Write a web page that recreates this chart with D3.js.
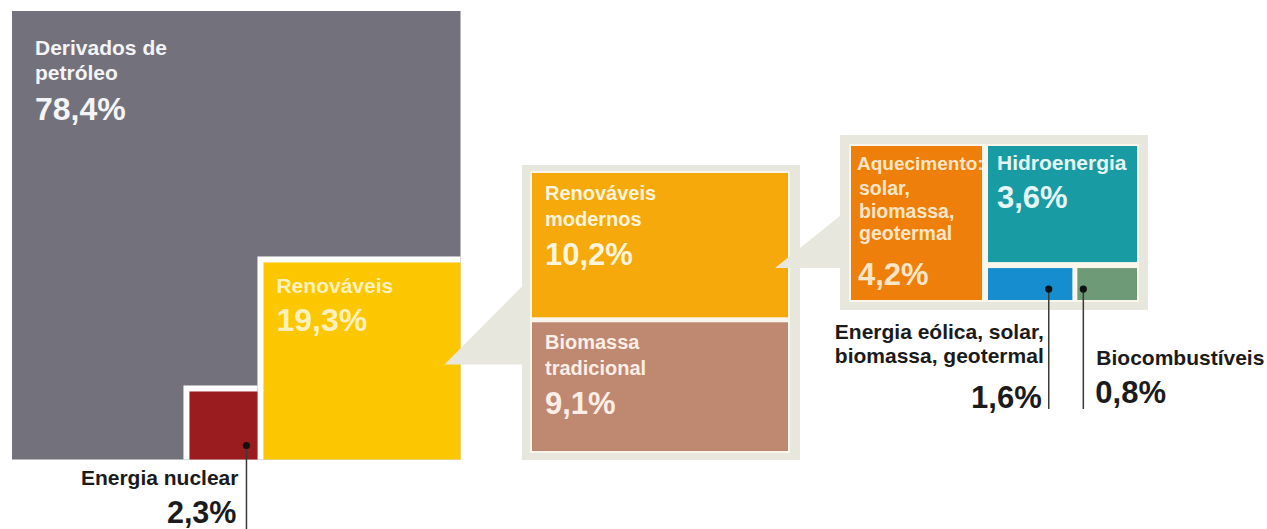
<!DOCTYPE html>
<html>
<head>
<meta charset="utf-8">
<script src="https://cdn.jsdelivr.net/npm/d3@7"></script>
<style>
  html, body { margin: 0; padding: 0; background: #fff; }
  svg { display: block; font-family: "Liberation Sans", Arial, Helvetica, sans-serif; font-weight: bold; }
</style>
</head>
<body>
<svg id="chart" width="1267" height="529"></svg>
<script>
// Final energy consumption by source (%), with the renewable share broken down twice
const sourceNames = ["Derivados de\npetróleo", "Energia nuclear", "Renováveis"];
const sourceValues = [78.4, 2.3, 19.3];

const renewableNames = ["Renováveis\nmodernos", "Biomassa\ntradicional"];
const renewableValues = [10.2, 9.1];

const modernNames = ["Aquecimento:\nsolar,\nbiomassa,\ngeotermal", "Hidroenergia",
                     "Energia eólica, solar,\nbiomassa, geotermal", "Biocombustíveis"];
const modernValues = [4.2, 3.6, 1.6, 0.8];

// Fill colours
const sourceColors = ["#73717b", "#9b1c1f", "#fdc700"];
const renewableColors = ["#f5a90a", "#bf8870"];
const modernColors = ["#ee7f0b", "#199ba3", "#168dcf", "#6e9a78"];
const frameColor = "#e8e7dd";
const innerLine = "#faf6ec";

const pt = d3.formatLocale({ decimal: ",", thousands: ".", grouping: [3], currency: ["", ""] });
const fmt = v => pt.format(".1f")(v) + "%";

const svg = d3.select("#chart");

// Multi-line text block; lines separated by \n
function textBlock(g, x, y, str, size, lineH, fill, anchor = "start") {
  const t = g.append("text")
    .attr("x", x).attr("y", y)
    .attr("font-size", size)
    .attr("fill", fill)
    .attr("text-anchor", anchor);
  str.split("\n").forEach((line, i) => {
    t.append("tspan").attr("x", x).attr("dy", i === 0 ? 0 : lineH).text(line);
  });
  return t;
}

// ---- Main square: area encodes share of the whole ----
const total = d3.sum(sourceValues);
const side = d3.scaleSqrt().domain([0, total]).range([0, 448.5]);
const X0 = 12, Y0 = 11;
const S = side(total);

const main = svg.append("g");
main.append("rect").attr("x", X0).attr("y", Y0).attr("width", S).attr("height", S)
  .attr("fill", sourceColors[0]);

const rS = side(sourceValues[2]);
const rX = X0 + S - rS, rY = Y0 + S - rS;
const nS = side(sourceValues[1]);
const nX = rX - 6 - nS, nY = Y0 + S - nS;

// white gutters around the inset squares
main.append("rect").attr("x", rX - 6).attr("y", rY - 6).attr("width", rS + 6).attr("height", rS + 6).attr("fill", "#fff");
main.append("rect").attr("x", nX - 6).attr("y", nY - 6).attr("width", nS + 6).attr("height", nS + 6).attr("fill", "#fff");
main.append("rect").attr("x", rX).attr("y", rY).attr("width", rS).attr("height", rS).attr("fill", sourceColors[2]);
main.append("rect").attr("x", nX).attr("y", nY).attr("width", nS).attr("height", nS).attr("fill", sourceColors[1]);

textBlock(main, X0 + 23, Y0 + 44, sourceNames[0], 21, 25, "#f4f4f6");
textBlock(main, X0 + 23, Y0 + 109, fmt(sourceValues[0]), 32, 0, "#f4f4f6");
textBlock(main, rX + 13, rY + 31, sourceNames[2], 21, 25, "#fff1bf");
textBlock(main, rX + 13, rY + 69, fmt(sourceValues[2]), 32, 0, "#fff1bf");

// ---- Renewables breakdown panel ----
const b2 = { x: 522, y: 165, w: 278, h: 295 };
const c2 = { x: 532, y: 173, w: 256, h: 278, gap: 5 };

// callout wedge from the renewables square
const wedge = svg.append("g");
wedge.append("path")
  .attr("d", d3.line()([[rX + rS - 16, rY + 102], [b2.x, rY + 24], [b2.x, rY + 102]]))
  .attr("fill", frameColor);

const p2 = svg.append("g");
p2.append("rect").attr("x", b2.x).attr("y", b2.y).attr("width", b2.w).attr("height", b2.h).attr("fill", frameColor);
p2.append("rect").attr("x", c2.x - 2).attr("y", c2.y - 2).attr("width", c2.w + 4).attr("height", c2.h + 4).attr("fill", innerLine);

const h2 = d3.scaleLinear().domain([0, d3.sum(renewableValues)]).range([0, c2.h - c2.gap]);
let yCur = c2.y;
const cells2 = renewableValues.map((v, i) => {
  const cell = { x: c2.x, y: yCur, w: c2.w, h: h2(v), v, name: renewableNames[i], color: renewableColors[i] };
  yCur += cell.h + c2.gap;
  return cell;
});
p2.selectAll("rect.cell").data(cells2).join("rect").attr("class", "cell")
  .attr("x", d => d.x).attr("y", d => d.y).attr("width", d => d.w).attr("height", d => d.h)
  .attr("fill", d => d.color);
const text2 = ["#fff4dc", "#fbeee6"];
cells2.forEach((d, i) => {
  textBlock(p2, d.x + 13, d.y + 27, d.name, 20, 26, text2[i]);
  textBlock(p2, d.x + 13, d.y + 92, fmt(d.v), 31, 0, text2[i]);
});

// ---- Modern renewables breakdown panel ----
const b3 = { x: 840, y: 135, w: 308, h: 175 };
const c3 = { x: 851, y: 146, w: 286, h: 154, gap: 6 };

const cell2Modern = cells2[0];
svg.append("path")
  .attr("d", d3.line()([[cell2Modern.x + cell2Modern.w - 13, b3.y + 133], [b3.x, b3.y + 81], [b3.x, b3.y + 133]]))
  .attr("fill", frameColor);

const p3 = svg.append("g");
p3.append("rect").attr("x", b3.x).attr("y", b3.y).attr("width", b3.w).attr("height", b3.h).attr("fill", frameColor);
p3.append("rect").attr("x", c3.x - 2).attr("y", c3.y - 2).attr("width", c3.w + 4).attr("height", c3.h + 4).attr("fill", innerLine);

// area per unit share
const area = d3.scaleLinear().domain([0, d3.sum(modernValues)]).range([0, 49000]);
const heatW = area(modernValues[0]) / c3.h;
const hydroX = c3.x + heatW + c3.gap;
const hydroW = c3.w - heatW - c3.gap;
const hydroH = area(modernValues[1]) / hydroW;
const stripY = c3.y + hydroH + c3.gap;
const stripH = c3.h - hydroH - c3.gap;
const stripVals = modernValues.slice(2);
const stripScale = d3.scaleSqrt().domain([0, d3.max(stripVals)]).range([0, 1]);
const stripSum = d3.sum(stripVals, v => stripScale(v));
const stripAvail = hydroW - 5;
const w0 = stripAvail * stripScale(stripVals[0]) / stripSum;
const w1 = stripAvail - w0;

const cells3 = [
  { x: c3.x, y: c3.y, w: heatW, h: c3.h },
  { x: hydroX, y: c3.y, w: hydroW, h: hydroH },
  { x: hydroX, y: stripY, w: w0, h: stripH },
  { x: hydroX + w0 + 5, y: stripY, w: w1, h: stripH }
].map((d, i) => Object.assign(d, { v: modernValues[i], name: modernNames[i], color: modernColors[i] }));

p3.selectAll("rect.cell").data(cells3).join("rect").attr("class", "cell")
  .attr("x", d => d.x).attr("y", d => d.y).attr("width", d => d.w).attr("height", d => d.h)
  .attr("fill", d => d.color);

textBlock(p3, cells3[0].x + 6, cells3[0].y + 24, "Aquecimento:", 19, 0, "#fde6c8");
textBlock(p3, cells3[0].x + 8, cells3[0].y + 49, modernNames[0].split("\n").slice(1).join("\n"), 19.5, 22.5, "#fde6c8");
textBlock(p3, cells3[0].x + 7, cells3[0].y + 139, fmt(modernValues[0]), 31, 0, "#fde6c8");
textBlock(p3, cells3[1].x + 9, cells3[1].y + 24, modernNames[1], 21, 0, "#e6f6f6");
textBlock(p3, cells3[1].x + 9, cells3[1].y + 62, fmt(modernValues[1]), 31, 0, "#e6f6f6");

// ---- Leader lines and outside labels ----
const ink = "#1b1b1b";
const leaders = svg.append("g");
function leader(x, y0, y1) {
  leaders.append("line").attr("x1", x).attr("x2", x).attr("y1", y0).attr("y2", y1)
    .attr("stroke", "#3a3a3a").attr("stroke-width", 1.5);
  leaders.append("circle").attr("cx", x).attr("cy", y0).attr("r", 3.6).attr("fill", "#111");
}

// nuclear
const nucX = nX + nS - 11, nucY = nY + nS - 14;
leader(nucX, nucY, 540);
textBlock(leaders, nucX - 8, 485, sourceNames[1], 21, 0, ink, "end");
textBlock(leaders, nucX - 10, 523, fmt(sourceValues[1]), 30.5, 0, ink, "end");

// wind / solar etc.
const windX = cells3[2].x + cells3[2].w * 0.72, dotY = stripY + 21;
leader(windX, dotY, 409);
textBlock(leaders, windX - 5, 339, modernNames[2], 21, 24, ink, "end");
textBlock(leaders, windX - 7, 408, fmt(modernValues[2]), 31, 0, ink, "end");

// biofuels
const bioX = cells3[3].x + cells3[3].w * 0.1;
leader(bioX, dotY, 409);
textBlock(leaders, bioX + 13, 365, modernNames[3], 21, 0, ink);
textBlock(leaders, bioX + 12, 403, fmt(modernValues[3]), 31, 0, ink);
</script>
</body>
</html>
